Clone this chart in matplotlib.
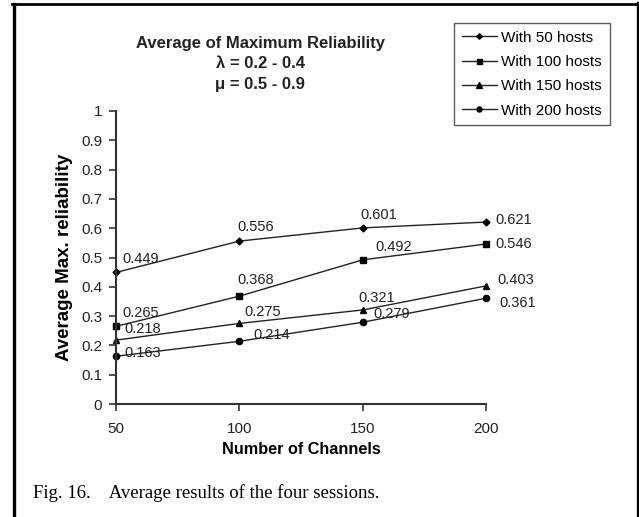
import matplotlib
matplotlib.use("Agg")
import matplotlib.pyplot as plt
from matplotlib.lines import Line2D

plt.rcParams['font.family'] = ['Liberation Sans', 'DejaVu Sans']

channels = [50, 100, 150, 200]
series_names = ["With 50 hosts", "With 100 hosts", "With 150 hosts", "With 200 hosts"]
hosts50 = [0.449, 0.556, 0.601, 0.621]
hosts100 = [0.265, 0.368, 0.492, 0.546]
hosts150 = [0.218, 0.275, 0.321, 0.403]
hosts200 = [0.163, 0.214, 0.279, 0.361]
yticks = [0, 0.1, 0.2, 0.3, 0.4, 0.5, 0.6, 0.7, 0.8, 0.9, 1]
ytick_labels = ["0", "0.1", "0.2", "0.3", "0.4", "0.5", "0.6", "0.7", "0.8", "0.9", "1"]

W, H = 639, 517
fig = plt.figure(figsize=(W/100, H/100), dpi=100)
ax = fig.add_axes([116/W, 1-404/H, 370/W, 293/H])

markers = ['D', 's', '^', 'o']
msizes = [3.5, 4.5, 5, 4.5]
all_series = [hosts50, hosts100, hosts150, hosts200]
for vals, name, m, ms in zip(all_series, series_names, markers, msizes):
    ax.plot(channels, vals, color='#222222', lw=1.0, marker=m, ms=ms,
            markerfacecolor='black', markeredgecolor='black', label=name, clip_on=False)

# label offsets in pixels (dx, dy)
offsets = [
    [(6, 13), (-2, 14), (-2, 13), (9, 2)],
    [(6, 13), (-2, 16), (13, 13), (9, 0)],
    [(8, 11), (5, 11), (-4, 12), (11, 6)],
    [(8, 3), (14, 6), (11, 8), (13, -5)],
]
for vals, offs in zip(all_series, offsets):
    for x, v, (dx, dy) in zip(channels, vals, offs):
        ax.annotate(f"{v:.3f}", (x, v), xytext=(dx, dy), textcoords='offset pixels',
                    fontsize=10.5, color='#222222', ha='left', va='center')

ax.set_xlim(50, 200)
ax.set_ylim(0, 1)
ax.set_xticks(channels)
ax.set_xticklabels([str(c) for c in channels], fontsize=11)
ax.set_yticks(yticks)
ax.set_yticklabels(ytick_labels, fontsize=11)
for s in ['top', 'right']:
    ax.spines[s].set_visible(False)
for s in ['left', 'bottom']:
    ax.spines[s].set_linewidth(1.5)
    ax.spines[s].set_color('#333333')
ax.tick_params(direction='out', length=5, width=1.2, color='#333333', labelcolor='#222222')
ax.tick_params(axis='x', pad=8)
ax.tick_params(axis='y', pad=5)
ax.set_xlabel("Number of Channels", fontsize=11.7, fontweight='bold', labelpad=4)
ax.set_ylabel("Average Max. reliability", fontsize=13.5, fontweight='bold', labelpad=6)

fig.text(260/W, 1-64/H, "Average of Maximum Reliability\nλ = 0.2 - 0.4\nμ = 0.5 - 0.9",
         ha='center', va='center', fontsize=12, fontweight='bold', linespacing=1.45, color='#222222')

leg = fig.legend(loc='upper left', bbox_to_anchor=(454/W, 1-23/H), fontsize=11,
                 frameon=True, fancybox=False, edgecolor='#333333', handlelength=2.3,
                 borderpad=0.5, labelspacing=0.68, handletextpad=0.3, borderaxespad=0,
                 markerscale=0.8)
leg.get_frame().set_linewidth(1.0)

fig.text(33/W, 1-493/H, "Fig. 16.    Average results of the four sessions.",
         family=['Liberation Serif', 'DejaVu Serif'], fontsize=13.5, ha='left', va='center')

# outer frame (left, top, right edges)
fig.add_artist(Line2D([13.5/W, 13.5/W], [0, 1-3.5/H], transform=fig.transFigure, color='black', lw=2.4))
fig.add_artist(Line2D([12/W, 1], [1-4/H, 1-4/H], transform=fig.transFigure, color='black', lw=2.0))
fig.add_artist(Line2D([637.5/W, 637.5/W], [0, 1-3/H], transform=fig.transFigure, color='black', lw=2.4))

fig.savefig("out.png", dpi=100)
